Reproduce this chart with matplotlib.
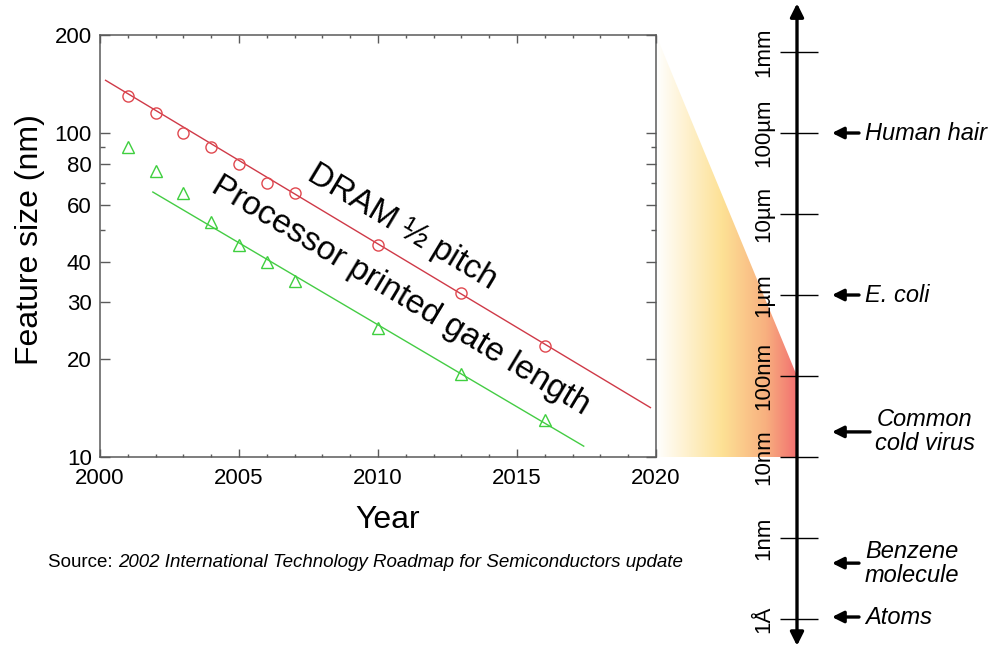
import numpy as np
import matplotlib
matplotlib.use("Agg")
import matplotlib.pyplot as plt
from matplotlib.colors import LinearSegmentedColormap
from matplotlib.patches import Polygon
from matplotlib.ticker import FixedLocator, NullFormatter

plt.rcParams['font.family'] = ['Liberation Sans', 'DejaVu Sans']

# ITRS 2002 roadmap values
years = [2001, 2002, 2003, 2004, 2005, 2006, 2007, 2010, 2013, 2016]
dram = [130, 115, 100, 90, 80, 70, 65, 45, 32, 22]
gate = [90, 76, 65, 53, 45, 40, 35, 25, 18, 13]

# trend lines (end points)
dram_fit_x = [2000.2, 2019.8]
dram_fit_y = [145, 14.2]
gate_fit_x = [2001.9, 2017.4]
gate_fit_y = [65.6, 10.8]

yticks = [10, 20, 30, 40, 60, 80, 100, 200]
yminor = [50, 70, 90]

# size scale on the right (log10 of metres)
scale_exp = [-3, -4, -5, -6, -7, -8, -9, -10]
scale_lab = ["1mm", "100µm", "10µm", "1µm", "100nm", "10nm", "1nm", "1Å"]

obj_names = ["Human hair", "E. coli", "Common\ncold virus", "Benzene\nmolecule", "Atoms"]
obj_exp = [-4.0, -6.0, -7.69, -9.31, -9.975]

fig = plt.figure(figsize=(9.93, 6.49), dpi=100)

# main chart
ax = fig.add_axes([100/993, 192/649, 556/993, 422/649], zorder=2)
ax.set_facecolor('none')
ax.set_yscale('log')
ax.set_xlim(2000, 2020)
ax.set_ylim(10, 200)

ax.plot(dram_fit_x, dram_fit_y, color='#cf3a48', lw=1.0)
ax.plot(gate_fit_x, gate_fit_y, color='#44cc44', lw=1.0)
ax.plot(years, dram, 'o', mfc='none', mec='#e0484f', ms=8, mew=1.0)
ax.plot(years, gate, '^', mfc='none', mec='#3fcf3f', ms=9, mew=1.0)

ax.set_yticks(yticks)
ax.set_yticklabels([str(v) for v in yticks])
ax.yaxis.set_minor_locator(FixedLocator(yminor))
ax.yaxis.set_minor_formatter(NullFormatter())
ax.set_xticks([2000, 2005, 2010, 2015, 2020])
ax.xaxis.set_minor_locator(FixedLocator(range(2000, 2021)))

for s in ax.spines.values():
    s.set_color('#5a5a5a')
    s.set_linewidth(1.1)
ax.tick_params(which='both', direction='in', top=True, right=True,
               color='#5a5a5a', width=1, labelsize=16)
ax.tick_params(axis='y', which='major', length=7, pad=6)
ax.tick_params(axis='y', which='minor', length=3.5)
ax.tick_params(axis='x', which='major', length=5.5, pad=8)
ax.tick_params(axis='x', which='minor', length=2.5)

ax.text(2010.85, 51, "DRAM ½ pitch", rotation=-31, rotation_mode='anchor',
        ha='center', va='center', fontsize=24)
ax.text(2010.8, 31.5, "Processor printed gate length", rotation=-31,
        rotation_mode='anchor', ha='center', va='center', fontsize=24)

fig.text(30/993, 1 - 240/649, "Feature size (nm)", rotation=90,
         ha='center', va='center', fontsize=23)
fig.text(388/993, 1 - 520/649, "Year", ha='center', va='center', fontsize=23)

t1 = fig.text(48/993, 1 - 571/649, "Source: ", fontsize=13.5, va='bottom', ha='left')
ax.annotate("2002 International Technology Roadmap for Semiconductors update",
            xy=(1, 0), xycoords=t1, va='bottom', ha='left',
            fontsize=13.5, style='italic', annotation_clip=False)

# size scale
AX_X = 797
axr = fig.add_axes([740/993, 0, 253/993, 1], zorder=3)
axr.set_facecolor('none')
axr.set_xlim(740, 993)
axr.set_ylim(-10.370, -2.358)
axr.axis('off')

axr.annotate('', xy=(AX_X, -2.40), xytext=(AX_X, -10.33),
             arrowprops=dict(arrowstyle='<|-|>', lw=2.4, color='black',
                             mutation_scale=20, shrinkA=0, shrinkB=0))
axr.hlines(scale_exp, 780, 818, color='black', lw=1)
for e, lab in zip(scale_exp, scale_lab):
    axr.text(764, e, lab, rotation=90, ha='center', va='center', fontsize=16)

for name, e in zip(obj_names, obj_exp):
    if name.startswith("Common"):
        axr.text(925, e, name, ha='center', va='center', fontsize=17,
                 style='italic', linespacing=1.05)
        start = 870
    else:
        axr.text(865, e, name, ha='left', va='center', fontsize=17,
                 style='italic', linespacing=1.05)
        start = 859
    axr.annotate('', xy=(832, e), xytext=(start, e),
                 arrowprops=dict(arrowstyle='-|>', lw=2.4, color='black',
                                 mutation_scale=17, shrinkA=0, shrinkB=0))

# gradient wedge joining the chart to the scale
inv = fig.transFigure.inverted()
pts = [ax.transData.transform((2020, 200)),
       axr.transData.transform((AX_X, -7)),
       axr.transData.transform((AX_X, -8)),
       ax.transData.transform((2020, 10))]
pts = inv.transform(np.array(pts))

ov = fig.add_axes([0, 0, 1, 1], zorder=1)
ov.set_xlim(0, 1)
ov.set_ylim(0, 1)
ov.axis('off')
cmap = LinearSegmentedColormap.from_list(
    'wedge', [(0, '#ffffff'), (0.47, '#fde195'), (0.78, '#f8b07f'), (1, '#f27070')])
grad = np.linspace(0, 1, 256).reshape(1, -1)
x0, x1 = pts[:, 0].min(), pts[:, 0].max()
y0, y1 = pts[:, 1].min(), pts[:, 1].max()
im = ov.imshow(grad, cmap=cmap, extent=[x0, x1, y0, y1], aspect='auto',
               origin='lower', interpolation='bilinear')
poly = Polygon(pts, closed=True, transform=ov.transData, facecolor='none',
               edgecolor='none')
ov.add_patch(poly)
im.set_clip_path(poly)

fig.savefig("out.png", dpi=100)
